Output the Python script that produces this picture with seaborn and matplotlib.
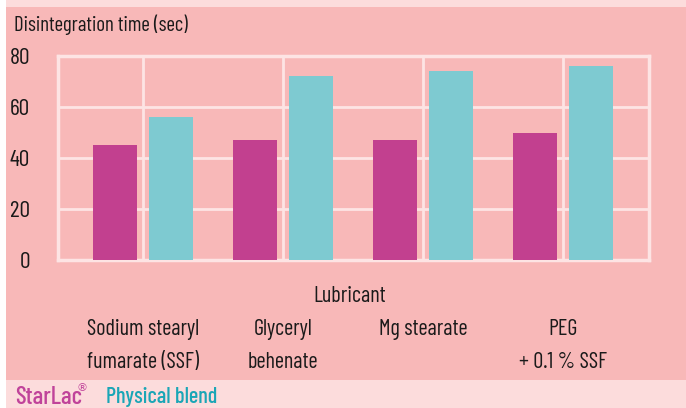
import matplotlib.pyplot as plt
import matplotlib.patches as mpatches
import pandas as pd
import seaborn as sns

# --- dados ---
lubricants = ["SSF", "Glyceryl behenate", "Mg stearate", "PEG + 0.1% SSF"]
starlac = [45, 47, 47, 50]
physical_blend = [56, 72, 74, 76]
series_names = ["StarLac", "Physical blend"]

label_line1 = ["Sodium stearyl", "Glyceryl", "Mg stearate", "PEG"]
label_line2 = ["fumarate (SSF)", "behenate", "", "+ 0.1 % SSF"]
y_ticks = [0, 20, 40, 60, 80]

# cores
BG = "#f8b8b8"
BAND = "#fcdcdc"
GRID = "#fde4e4"
MAGENTA = "#c2408f"
CYAN = "#7ecad1"
TXT = "#1a1a1a"
TXT_MAGENTA = "#c0439a"
TXT_TEAL = "#1aa6b6"

df = pd.DataFrame({
    "Lubricant": lubricants * 2,
    "Time": starlac + physical_blend,
    "Serie": [series_names[0]] * 4 + [series_names[1]] * 4,
})

sns.set_theme(style="white")
plt.rcParams["font.family"] = ["Barlow Condensed", "DejaVu Sans"]

W, H = 686, 408
fig = plt.figure(figsize=(W / 100, H / 100), dpi=100)
fig.patch.set_facecolor("white")


def px(x, y):
    return x / W, 1 - y / H


# fundos
fig.patches.append(mpatches.Rectangle((6 / W, 0), 1, 1, transform=fig.transFigure,
                                      facecolor=BAND, edgecolor="none", zorder=-3))
fig.patches.append(mpatches.Rectangle((6 / W, 1 - 380 / H), 1, (380 - 7) / H,
                                      transform=fig.transFigure,
                                      facecolor=BG, edgecolor="none", zorder=-2))

ax = fig.add_axes([58 / W, 1 - 260 / H, (649 - 58) / W, (260 - 56) / H])
ax.set_facecolor(BG)

sns.barplot(data=df, x="Lubricant", y="Time", hue="Serie",
            palette=[MAGENTA, CYAN], width=0.8, gap=0.2, linewidth=0,
            saturation=1, legend=False, ax=ax, zorder=3)

ax.set_xlim(-0.607, 3.614)
ax.set_ylim(0, 80)
ax.set_yticks(y_ticks)
ax.set_axisbelow(True)
ax.grid(True, color=GRID, linewidth=2)
for s in ax.spines.values():
    s.set_color(GRID)
    s.set_linewidth(2.5)

ax.set_xlabel("")
ax.set_ylabel("")
ax.set_xticklabels([])
ax.tick_params(axis="both", length=0)
ax.tick_params(axis="y", pad=20, labelsize=17, labelcolor=TXT)

fs = 16
fig.text(*px(14, 25), "Disintegration time (sec)", fontsize=15, va="center",
         ha="left", color=TXT)
fig.text(*px(350, 296), "Lubricant", fontsize=fs, va="center", ha="center", color=TXT)

# rótulos das categorias, centrados em cada grupo
tr = ax.get_xaxis_transform()
for i, (l1, l2) in enumerate(zip(label_line1, label_line2)):
    ax.text(i, -70 / 204, l1, transform=tr, fontsize=fs, va="center", ha="center",
            color=TXT)
    ax.text(i, -103 / 204, l2, transform=tr, fontsize=fs, va="center", ha="center",
            color=TXT)

# legenda
fig.text(*px(15, 397), "StarLac", fontsize=18, va="center", ha="left",
         color=TXT_MAGENTA, fontweight="medium")
fig.text(*px(77, 388), "®", fontsize=8, va="center", ha="left", color=TXT_MAGENTA,
         family="DejaVu Sans")
fig.text(*px(106, 397), "Physical blend", fontsize=16, va="center", ha="left",
         color=TXT_TEAL, fontweight="medium")

fig.savefig("out.png", dpi=100, facecolor=fig.get_facecolor())
